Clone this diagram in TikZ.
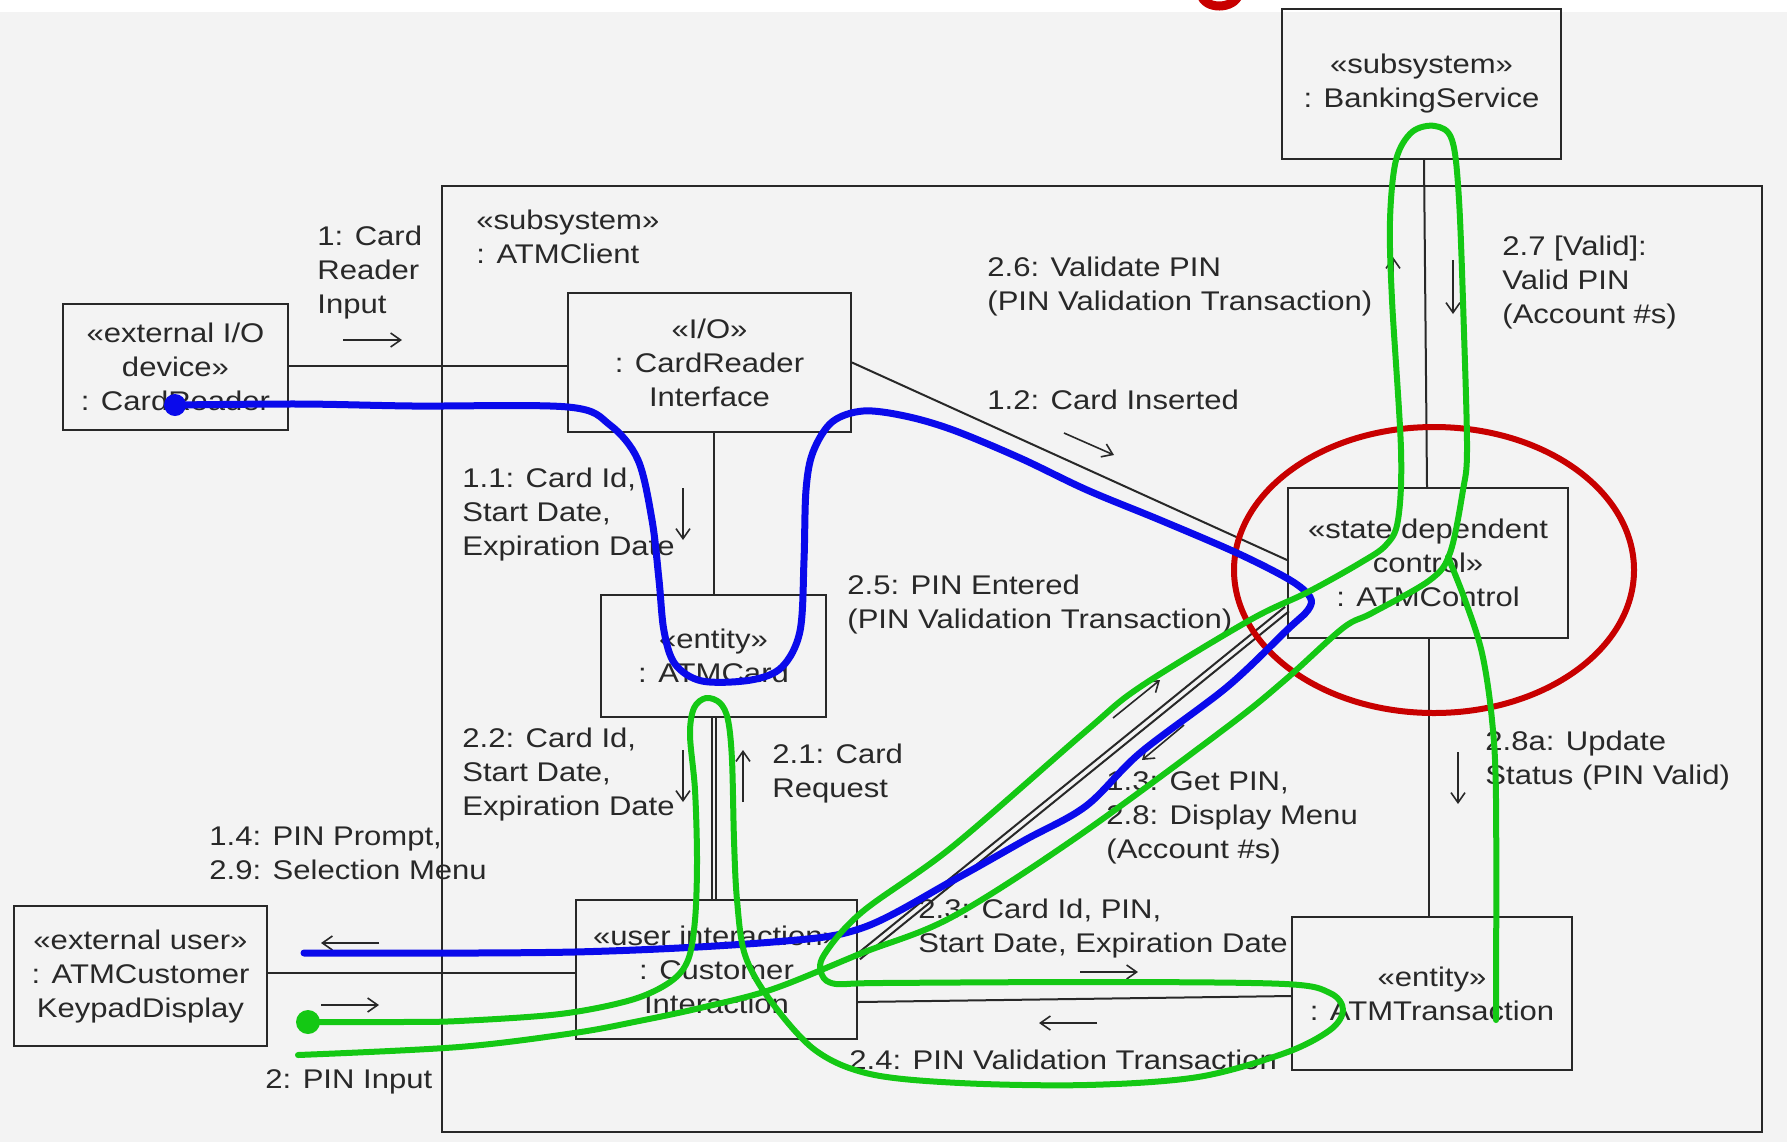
\documentclass[tikz,border=0pt]{standalone}
\usepackage{fontspec}
\setmainfont{Liberation Sans}[FakeStretch=1.15]
\usetikzlibrary{arrows.meta,calc}
\definecolor{bgc}{RGB}{243,243,243}
\definecolor{ink}{RGB}{40,40,40}
\definecolor{hblue}{RGB}{10,10,235}
\definecolor{hgreen}{RGB}{20,200,20}
\definecolor{hred}{RGB}{200,0,0}
\begin{document}
\begin{tikzpicture}[x=0.5pt,y=-0.5pt,
  every node/.style={font=\fontsize{13.5pt}{17pt}\selectfont, text=ink},
  obj/.style={draw=ink, line width=1pt, align=center, inner sep=0pt},
  lbl/.style={anchor=west, align=left, inner sep=0pt},
  lnk/.style={draw=ink, line width=1pt},
  msg/.style={draw=ink, line width=0.8pt, -{Straight Barb[length=5pt,width=7pt]}},
  hl/.style={line width=3pt, line cap=round, line join=round},
]
\fill[bgc] (0,0) rectangle (1787,1142);
\fill[white] (0,0) rectangle (1787,12);
\useasboundingbox (0,0) rectangle (1787,1142);

% subsystem frame
\node[draw=ink, line width=1pt, minimum width=660pt, minimum height=473pt, inner sep=0pt] (client) at (1102,659) {};
\node[lbl] (clientlbl) at (476,236.5) {«subsystem»\\: ATMClient};

% objects
\node[obj, minimum width=112.5pt, minimum height=63pt] (crd) at (175.5,367) {«external I/O\\device»\\: CardReader};
\node[obj, minimum width=141.5pt, minimum height=69.5pt] (cri) at (709.5,362.5) {«I/O»\\: CardReader\\Interface};
\node[obj, minimum width=112.5pt, minimum height=61pt] (card) at (713.5,656) {«entity»\\: ATMCard};
\node[obj, minimum width=140.5pt, minimum height=69.5pt] (ci) at (716.5,969.5) {«user interaction»\\: Customer\\Interaction};
\node[obj, minimum width=126.5pt, minimum height=70pt] (kd) at (140.5,976) {«external user»\\: ATMCustomer\\KeypadDisplay};
\node[obj, minimum width=140pt, minimum height=75pt] (ctl) at (1428,563) {«state dependent\\control»\\: ATMControl};
\node[obj, minimum width=140pt, minimum height=76.5pt] (tr) at (1432,993.5) {«entity»\\: ATMTransaction};
\node[obj, minimum width=139.5pt, minimum height=75pt] (bank) at (1421.5,84) {«subsystem»\\: BankingService};

% links
\draw[lnk] ([yshift=0.5pt]crd.east) -- ([yshift=0.5pt]crd.east -| cri.west);
\draw[lnk] (card.north |- cri.south) -- (card.north);
\draw[lnk] ($(card.south)+(-2,0)$) -- ($(card.south |- ci.north)+(-2,0)$);
\draw[lnk] ($(card.south)+(2,0)$) -- ($(card.south |- ci.north)+(2,0)$);
\draw[lnk] ([yshift=1.5pt]kd.east) -- ([yshift=1.5pt]kd.east -| ci.west);
\draw[lnk] (cri.east) -- ([yshift=1.5pt]ctl.west);
\draw[lnk] ($(ci.east)+(-1.9,-14.8)$) -- ($(ctl.south west)+(-1.9,-32.3)$);
\draw[lnk] ($(ci.east)+(1.9,-10.2)$) -- ($(ctl.south west)+(1.9,-27.7)$);
\draw[lnk] ($(ci.east)+(0,32.5)$) -- ($(tr.west)+(0,2.5)$);
\draw[lnk] ($(bank.south)+(2.5,0)$) -- ($(ctl.north)+(-1,0)$);
\draw[lnk] ($(ctl.south)+(1,0)$) -- ($(tr.north)+(-3,0)$);

% message arrows
\coordinate (m1a) at (343,340); \coordinate (m1b) at (402,340);
\draw[msg] (m1a) -- (m1b);
\coordinate (m11a) at (683,488); \coordinate (m11b) at (683,540);
\draw[msg] (m11a) -- (m11b);
\coordinate (m12a) at (1064,433); \coordinate (m12b) at (1114,455);
\draw[msg] (m12a) -- (m12b);
\coordinate (m14a) at (379,943); \coordinate (m14b) at (321,943);
\draw[msg] (m14a) -- (m14b);
\coordinate (m2a) at (321,1005); \coordinate (m2b) at (379,1005);
\draw[msg] (m2a) -- (m2b);
\coordinate (m21a) at (743,802); \coordinate (m21b) at (743,750);
\draw[msg] (m21a) -- (m21b);
\coordinate (m22a) at (683,750); \coordinate (m22b) at (683,802);
\draw[msg] (m22a) -- (m22b);
\coordinate (m23a) at (1080,972); \coordinate (m23b) at (1138,972);
\draw[msg] (m23a) -- (m23b);
\coordinate (m24a) at (1097,1023); \coordinate (m24b) at (1039,1023);
\draw[msg] (m24a) -- (m24b);
\coordinate (m25a) at (1113,718); \coordinate (m25b) at (1160,680);
\draw[msg] (m25a) -- (m25b);
\coordinate (m13a) at (1184,725); \coordinate (m13b) at (1142,760);
\draw[msg] (m13a) -- (m13b);
\coordinate (m26a) at (1393,312); \coordinate (m26b) at (1393,257);
\draw[msg] (m26a) -- (m26b);
\coordinate (m27a) at (1453,260); \coordinate (m27b) at (1453,314);
\draw[msg] (m27a) -- (m27b);
\coordinate (m28a) at (1458,752); \coordinate (m28b) at (1458,804);
\draw[msg] (m28a) -- (m28b);

% message labels
\node[lbl] (l1) at (317,273) {1: Card\\Reader\\Input};
\node[lbl] (l11) at (462,515) {1.1: Card Id,\\Start Date,\\Expiration Date};
\node[lbl] (l12) at (987,400) {1.2: Card Inserted};
\node[lbl] (l26) at (987,286.5) {2.6: Validate PIN\\(PIN Validation Transaction)};
\node[lbl] (l27) at (1502,283) {2.7 [Valid]:\\Valid PIN\\(Account \#s)};
\node[lbl] (l25) at (847,604) {2.5: PIN Entered\\(PIN Validation Transaction)};
\node[lbl] (l22) at (462,775) {2.2: Card Id,\\Start Date,\\Expiration Date};
\node[lbl] (l21) at (772,773.5) {2.1: Card\\Request};
\node[lbl] (l13) at (1106,818) {1.3: Get PIN,\\2.8: Display Menu\\(Account \#s)};
\node[lbl] (l28a) at (1485,760) {2.8a: Update\\Status (PIN Valid)};
\node[lbl] (l14) at (209,853.5) {1.4: PIN Prompt,\\2.9: Selection Menu};
\node[lbl] (l2) at (265,1082) {2: PIN Input};
\node[lbl] (l23) at (918,928.5) {2.3: Card Id, PIN,\\Start Date, Expiration Date};
\node[lbl] (l24) at (849,1060) {2.4: PIN Validation Transaction};

% hand-drawn overlays
\draw[hred, line width=3pt] (1434,570) ellipse [x radius=200, y radius=143];
\draw[hred, line width=4.5pt] (1201,-6) .. controls (1204,10) and (1234,10) .. (1239,-6);

\draw[hblue, hl, line width=3.5pt] plot[smooth, tension=0.55] coordinates {
 (175,405) (300,404) (413,406) (568,407) (610,425) (638,460) (652,520) (659,580)
 (664,631) (675,664) (702,681) (751,680) (782,667) (800,631) (804,560) (806,490)
 (813,452) (832,422) (863,411) (905,416) (953,430) (1020,458) (1087,490) (1160,520)
 (1237,553) (1290,580) (1310,597) (1308,610) (1287,630) (1227,687) (1140,753) (1086,806) (1025,840)
 (952,881) (862,928) (773,942) (574,952) (304,953)};
\fill[hblue] (175,405) circle [radius=11];

\draw[hgreen, hl] plot[smooth, tension=0.55] coordinates {
 (308,1022) (400,1022) (459,1021) (560,1014) (631,1000) (670,982) (688,960) (695,920)
 (697,860) (695,790) (690,735) (694,708) (706,698) (720,703) (728,720) (732,760)
 (734,840) (737,900) (745,955) (770,1000) (815,1050) (870,1074) (960,1083) (1086,1085)
 (1198,1077) (1285,1053) (1330,1030) (1343,1010) (1330,993) (1285,984) (1111,982)
 (880,983) (836,984) (822,975) (824,955) (862,912) (952,847) (1086,731) (1140,687)
 (1250,620) (1308,592) (1360,563) (1386,545) (1398,520) (1401,450) (1392,300)
 (1390,220) (1396,160) (1412,132) (1435,126) (1452,140) (1459,200) (1464,333)
 (1467,450) (1463,490) (1450,553) (1430,580) (1372,613) (1343,628) (1285,680)
 (1227,727) (1077,837) (952,917) (862,953) (773,989) (700,1008) (639,1021) (574,1033)
 (459,1047) (298,1055)};
\fill[hgreen] (308,1022) circle [radius=12];
\draw[hgreen, hl] plot[smooth, tension=0.55] coordinates {
 (1448,557) (1465,600) (1482,653) (1492,720) (1496,800) (1496,1020)};
\end{tikzpicture}
\end{document}
